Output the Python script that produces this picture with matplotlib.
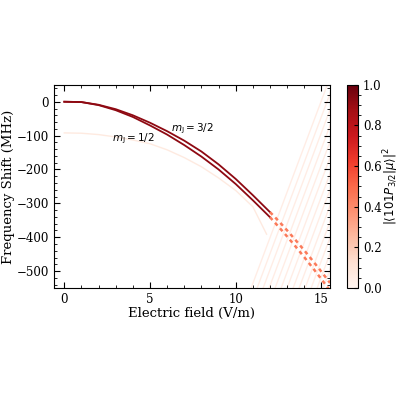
import numpy as np
import matplotlib.pyplot as plt

# field values (V/m) and frequency shifts (MHz)
field = [0, 1, 2, 3, 4, 5, 6, 7, 8, 9, 10, 11, 12]
shift_32 = [0, -1, -9, -22, -40, -62, -87, -115, -147, -185, -228, -276, -326]
shift_12 = [0, -1, -10, -25, -45, -70, -97, -128, -162, -200, -243, -291, -341]
field_faint = [0, 1, 2, 3, 4, 5, 6, 7, 8, 9, 10, 11, 11.8]
shift_faint = [-92, -93, -97, -104, -113, -124, -142, -165, -192, -225, -262, -310, -391]
weight_main = 0.92
weight_faint = 0.07

# beyond 12 V/m: avoided crossings region
field_hi = [12, 12.5, 13, 13.5, 14, 14.5, 15, 15.5]
shift_32_hi = [-326, -352, -380, -409, -439, -470, -502, -535]
shift_12_hi = [-341, -369, -398, -428, -459, -491, -524, -558]
weight_hi = 0.45

# fan of faint crossing states: starting field at bottom edge, slope MHz per V/m
fan_start = [10.9, 11.25, 11.6, 11.95, 12.3, 12.65, 13.0, 13.35, 13.7, 14.05, 14.4, 14.75, 15.1]
fan_slope = 135
weight_fan = 0.05

plt.rcParams['font.family'] = 'DejaVu Serif'
plt.rcParams['mathtext.fontset'] = 'dejavusans'
cmap = plt.get_cmap('Reds')

fig = plt.figure(figsize=(4, 4), dpi=100)
ax = fig.add_axes([0.135, 0.28, 0.69, 0.508])
cax = fig.add_axes([0.868, 0.28, 0.027, 0.508])

for s in fan_start:
    xs = np.array([s, s + 600 / fan_slope])
    ax.plot(xs, -550 + fan_slope * (xs - s), color=cmap(weight_fan), lw=1.0, zorder=1)

ax.plot(field_faint, shift_faint, color=cmap(weight_faint), lw=1.0, zorder=2)
ax.plot(field, shift_32, color=cmap(weight_main), lw=1.3, zorder=3)
ax.plot(field, shift_12, color=cmap(weight_main), lw=1.3, zorder=3)
ax.plot(field_hi, shift_32_hi, color=cmap(weight_hi), lw=1.8, ls=(0, (1.5, 1.5)), zorder=3)
ax.plot(field_hi, shift_12_hi, color=cmap(weight_hi), lw=1.8, ls=(0, (1.5, 1.5)), zorder=3)

ax.text(6.2, -88, r'$m_\mathrm{J}=3/2$', fontsize=7.5, family='DejaVu Sans')
ax.text(2.8, -118, r'$m_\mathrm{J}=1/2$', fontsize=7.5, family='DejaVu Sans')

ax.set_xlim(-0.6, 15.5)
ax.set_ylim(-550, 50)
ax.set_xticks([0, 5, 10, 15])
ax.set_yticks([0, -100, -200, -300, -400, -500])
ax.minorticks_on()
ax.tick_params(which='both', direction='in', top=True, right=True, labelsize=8.5)
ax.tick_params(which='major', length=4)
ax.tick_params(which='minor', length=2)
ax.set_xlabel('Electric field (V/m)', fontsize=9.5, labelpad=1)
ax.set_ylabel('Frequency Shift (MHz)', fontsize=9.5, labelpad=1)

sm = plt.cm.ScalarMappable(cmap=cmap, norm=plt.Normalize(0, 1))
cb = fig.colorbar(sm, cax=cax)
cb.set_ticks([0, 0.2, 0.4, 0.6, 0.8, 1.0])
cb.ax.tick_params(labelsize=8.5, direction='in', length=3)
cb.ax.minorticks_on()
cb.set_label(r'$|\langle 101P_{3/2}|\mu\rangle|^2$', fontsize=8.5, labelpad=0)

fig.savefig('out.png', dpi=100)
